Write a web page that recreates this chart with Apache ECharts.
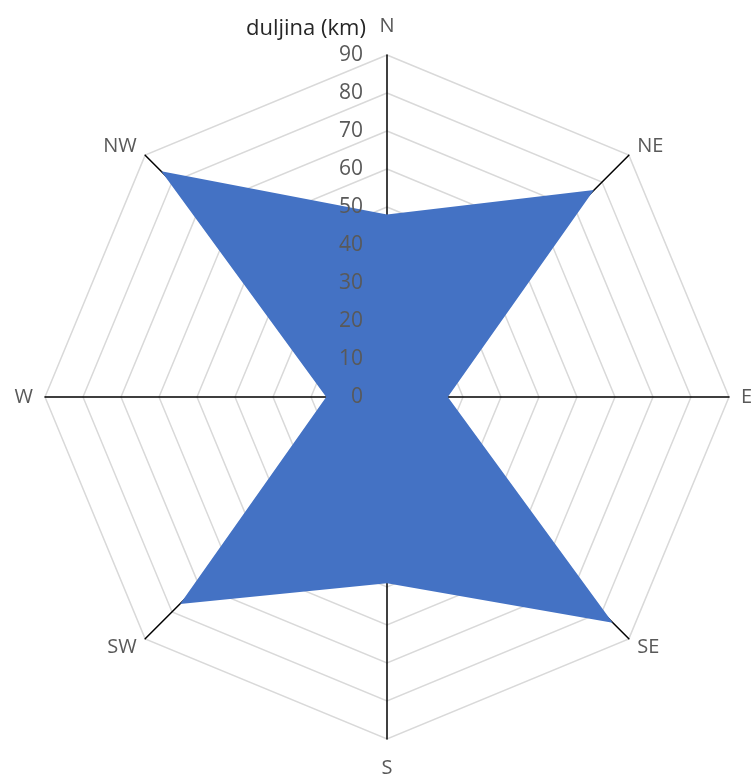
<!DOCTYPE html>
<html>
<head>
<meta charset="utf-8">
<script src="https://cdn.jsdelivr.net/npm/echarts@6/dist/echarts.min.js"></script>
<style>html,body{margin:0;padding:0;background:#fff}#c{width:751px;height:778px}</style>
</head>
<body>
<div id="c"></div>
<script>
// Data in compass order (clockwise from N)
const directions = ['N', 'NE', 'E', 'SE', 'S', 'SW', 'W', 'NW'];
const lengths = [48, 77, 16, 84, 49, 77, 16, 84];
const axisMax = 90;
const axisStep = 10;
const axisTitle = 'duljina (km)';

// ECharts radar places indicators counter-clockwise; reorder for clockwise look
const order = [0, 7, 6, 5, 4, 3, 2, 1];
const nameGaps = {N: 19, S: 19};

const FONT = 'Open Sans';
const CENTER = [387, 397];
const RADIUS = 342;

function indicators(withLabel) {
  return order.map(function (i) {
    const d = directions[i];
    const ind = {name: d, max: axisMax, min: 0, nameGap: nameGaps[d] != null ? nameGaps[d] : 12};
    if (withLabel && d === 'N') ind.axisLabel = {show: true};
    return ind;
  });
}

const chart = echarts.init(document.getElementById('c'), null, {renderer: 'canvas'});
chart.setOption({
  animation: false,
  title: {
    text: axisTitle, left: 241, top: 13,
    textStyle: {fontFamily: FONT, fontSize: 22, fontWeight: 'normal', color: '#262626'}
  },
  radar: [
    {
      center: CENTER, radius: RADIUS, shape: 'polygon', splitNumber: axisMax / axisStep,
      indicator: indicators(false),
      axisName: {color: '#595959', fontFamily: FONT, fontSize: 20},
      axisLine: {show: true, lineStyle: {color: '#000', width: 1.5}},
      splitLine: {show: true, lineStyle: {color: '#d9d9d9', width: 1.5}},
      splitArea: {show: false},
      axisLabel: {show: false},
      z: 0
    },
    {
      center: CENTER, radius: RADIUS, shape: 'polygon', splitNumber: axisMax / axisStep,
      indicator: indicators(true),
      axisName: {show: false},
      axisLine: {show: false},
      splitLine: {show: false},
      splitArea: {show: false},
      axisTick: {show: false},
      axisLabel: {show: false, color: '#595959', fontFamily: FONT, fontSize: 21, margin: 24, hideOverlap: false},
      z: 10
    }
  ],
  series: [{
    type: 'radar',
    radarIndex: 0,
    symbol: 'none',
    lineStyle: {width: 0},
    areaStyle: {color: '#4472C4', opacity: 1},
    data: [{value: order.map(function (i) { return lengths[i]; })}]
  }]
});
</script>
</body>
</html>
